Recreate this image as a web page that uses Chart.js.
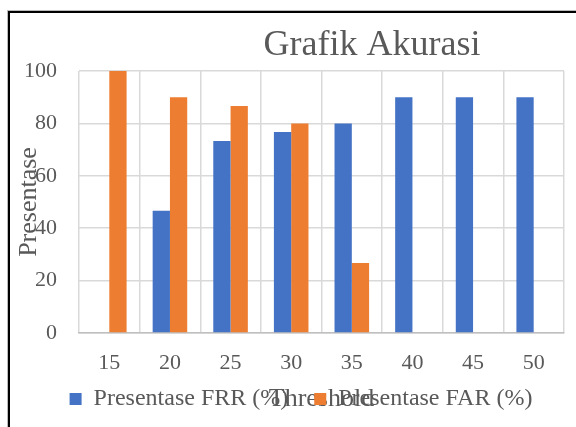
<!DOCTYPE html>
<html>
<head>
<meta charset="utf-8">
<script src="https://cdn.jsdelivr.net/npm/chart.js@4.4.1/dist/chart.umd.min.js"></script>
<style>
    html, body { margin: 0; padding: 0; background: #fff; overflow: hidden; }
    #frame { position: absolute; left: 8px; top: 11px; width: 700px; height: 500px;
             border-left: 2px solid #000; border-top: 2px solid #000; box-shadow: -1px -1px 0 #bbb; }
    #wrap { position: absolute; left: 0; top: 0; width: 576px; height: 427px; }
</style>
</head>
<body>
<div id="frame"></div>
<div id="wrap"><canvas id="myChart" width="576" height="427"></canvas></div>
<script>
const thresholds = ['15', '20', '25', '30', '35', '40', '45', '50'];
const frrValues = [0, 46.67, 73.33, 76.67, 80, 90, 90, 90];
const farValues = [100, 90, 86.67, 80, 26.67, 0, 0, 0];
const chartTitle = 'Grafik Akurasi';
const serif = "'Liberation Serif', 'Times New Roman', serif";
const textColor = '#595959';

// title sits off-centre in the original, so draw it by hand
const titlePlugin = {
    id: 'offTitle',
    afterDraw(chart) {
        const ctx = chart.ctx;
        ctx.save();
        ctx.font = '36px ' + serif;
        ctx.fillStyle = textColor;
        ctx.textAlign = 'center';
        ctx.textBaseline = 'alphabetic';
        ctx.fillText(chartTitle, 372, 55);
        ctx.restore();
    }
};

// legend in the original is shifted right and up a bit
const legendNudge = {
    id: 'legendNudge',
    afterLayout(chart) {
        const lg = chart.legend;
        lg.left += 12; lg.right += 12;
        lg.top -= 12; lg.bottom -= 12;
    }
};

const padLeft = 14;

new Chart(document.getElementById('myChart'), {
    type: 'bar',
    data: {
        labels: thresholds,
        datasets: [{
            label: 'Presentase FRR (%)',
            data: frrValues,
            backgroundColor: '#4472C4',
            borderWidth: 0
        }, {
            label: 'Presentase FAR (%)',
            data: farValues,
            backgroundColor: '#ED7D31',
            borderWidth: 0
        }]
    },
    options: {
        responsive: false,
        animation: false,
        layout: {padding: {left: padLeft, right: 12, top: 71, bottom: 0}},
        datasets: {bar: {barPercentage: 1, categoryPercentage: 0.57}},
        plugins: {
            title: {display: false},
            tooltip: {enabled: false},
            legend: {
                position: 'bottom',
                maxHeight: 54,
                labels: {
                    color: textColor,
                    font: {family: serif, size: 24},
                    boxWidth: 12,
                    boxHeight: 12,
                    padding: 26
                }
            }
        },
        scales: {
            x: {
                grid: {color: '#d9d9d9', lineWidth: 1.5, drawTicks: false, tickLength: 0},
                border: {color: '#bfbfbf', width: 1.5},
                ticks: {color: textColor, font: {family: serif, size: 22}, padding: 17},
                title: {display: true, text: 'Threshold', color: textColor,
                    font: {family: serif, size: 26}, padding: {top: 0, bottom: -42}},
                afterFit(scale) { scale.height = 40; }
            },
            y: {
                min: 0,
                max: 100,
                grid: {color: '#d9d9d9', lineWidth: 1.5, drawTicks: false, tickLength: 0},
                border: {display: false},
                ticks: {stepSize: 20, color: textColor, font: {family: serif, size: 22}, padding: 22},
                title: {display: true, text: 'Presentase', color: textColor,
                    font: {family: serif, size: 26}, padding: {top: 0, bottom: 0}},
                afterFit(scale) { scale.width = 79 - padLeft; }
            }
        }
    },
    plugins: [titlePlugin, legendNudge]
});
</script>
</body>
</html>
